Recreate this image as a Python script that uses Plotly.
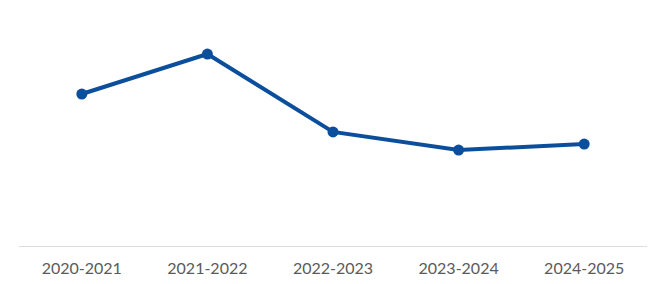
import plotly.graph_objects as go

categories = ["2020-2021", "2021-2022", "2022-2023", "2023-2024", "2024-2025"]
values = [9.66, 12.2, 7.25, 6.1, 6.48]

fig = go.Figure()
fig.add_trace(go.Scatter(
    x=categories, y=values, mode="lines+markers",
    line=dict(color="#0b4f9c", width=4),
    marker=dict(color="#0b4f9c", size=11),
    hoverinfo="skip",
))
fig.update_layout(
    width=663, height=284,
    margin=dict(l=19, r=16, t=10, b=38, autoexpand=False),
    paper_bgcolor="white", plot_bgcolor="white",
    showlegend=False,
    font=dict(family="Lato", size=16, color="#5a5a5a"),
)
fig.update_xaxes(
    type="category", range=[-0.5, 4.5], automargin=False,
    showgrid=False, showline=True, linecolor="#dddddd", linewidth=1,
    ticks="", ticklabelstandoff=8,
    tickfont=dict(family="Lato", size=16, color="#5a5a5a"),
)
fig.update_yaxes(range=[0, 15], automargin=False, showgrid=False, showticklabels=False, zeroline=False, showline=False)
fig.write_html("out.html")
